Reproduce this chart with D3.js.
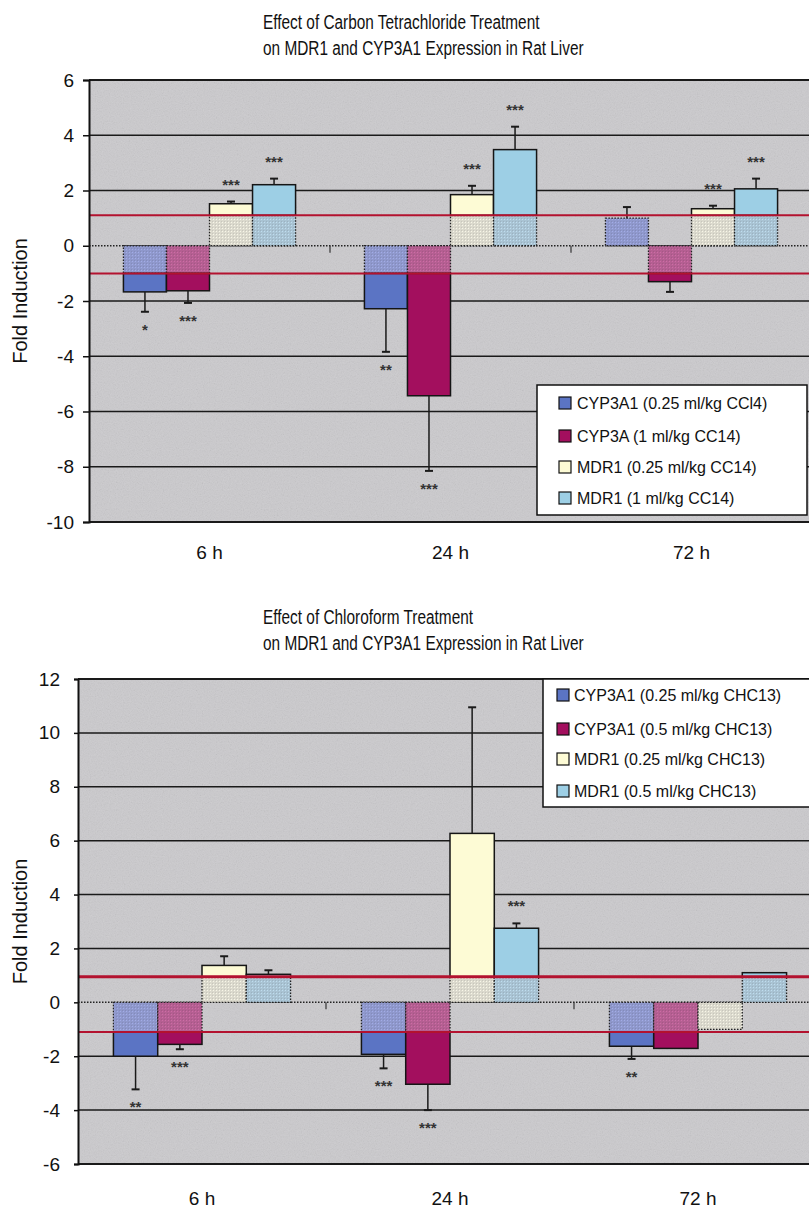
<!DOCTYPE html>
<html>
<head>
<meta charset="utf-8">
<script src="https://cdn.jsdelivr.net/npm/d3@7"></script>
<style>
  body { margin: 0; background: #fff; }
  text { font-family: "Liberation Sans", Arial, sans-serif; fill: #111; }
  .title { font-size: 20px; }
</style>
</head>
<body>
<div id="chart"></div>
<script>
// Categories
const timepoints = ["6 h", "24 h", "72 h"];

// Carbon tetrachloride panel
const ccl4Series = ["CYP3A1 (0.25 ml/kg CCl4)", "CYP3A (1 ml/kg CC14)", "MDR1 (0.25 ml/kg CC14)", "MDR1 (1 ml/kg CC14)"];
const ccl4Cyp025 = [-1.67, -2.28, 1.0];
const ccl4Cyp1   = [-1.63, -5.43, -1.30];
const ccl4Mdr025 = [1.52, 1.85, 1.34];
const ccl4Mdr1   = [2.21, 3.48, 2.06];
const ccl4Cyp025Err = [0.72, 1.56, 0.40];
const ccl4Cyp1Err   = [0.44, 2.72, 0.37];
const ccl4Mdr025Err = [0.08, 0.32, 0.11];
const ccl4Mdr1Err   = [0.22, 0.83, 0.37];
const ccl4Stars = [["*", "**", ""], ["***", "***", ""], ["***", "***", "***"], ["***", "***", "***"]];
const ccl4Ticks = [-10, -8, -6, -4, -2, 0, 2, 4, 6];

// Chloroform panel
const chcSeries = ["CYP3A1 (0.25 ml/kg CHC13)", "CYP3A1 (0.5 ml/kg CHC13)", "MDR1 (0.25 ml/kg CHC13)", "MDR1 (0.5 ml/kg CHC13)"];
const chcCyp025 = [-2.0, -1.93, -1.63];
const chcCyp05  = [-1.56, -3.04, -1.71];
const chcMdr025 = [1.37, 6.27, -1.0];
const chcMdr05  = [1.04, 2.75, 1.1];
const chcCyp025Err = [1.23, 0.52, 0.47];
const chcCyp05Err  = [0.18, 0.96, 0];
const chcMdr025Err = [0.34, 4.68, 0];
const chcMdr05Err  = [0.15, 0.18, 0];
const chcStars = [["**", "***", "**"], ["***", "***", ""], ["", "", ""], ["", "***", ""]];
const chcTicks = [-6, -4, -2, 0, 2, 4, 6, 8, 10, 12];

// series colours: solid part, and the faded part inside the no-change band
const solidColors = ["#5b74c4", "#a30f5e", "#fdfbd5", "#9dcfe5"];
const fadedColors = ["#8f98cc", "#b55f92", "#dbd9cd", "#a9c3d3"];

const svg = d3.select("#chart").append("svg")
  .attr("width", 809).attr("height", 1211);

const defs = svg.append("defs");
const grain = defs.append("filter").attr("id", "grain")
  .attr("x", 0).attr("y", 0).attr("width", "100%").attr("height", "100%");
grain.append("feTurbulence").attr("type", "fractalNoise")
  .attr("baseFrequency", 0.85).attr("numOctaves", 2).attr("seed", 4);
grain.append("feColorMatrix").attr("type", "saturate").attr("values", 0);
grain.append("feComponentTransfer").append("feFuncA").attr("type", "linear").attr("slope", 0.22);

// checker texture for faded segments
fadedColors.forEach((c, i) => {
  const p = defs.append("pattern").attr("id", "fade" + i)
    .attr("width", 3).attr("height", 3).attr("patternUnits", "userSpaceOnUse");
  p.append("rect").attr("width", 3).attr("height", 3).attr("fill", c);
  p.append("rect").attr("width", 1).attr("height", 1).attr("fill", d3.color(c).brighter(0.35));
  p.append("rect").attr("x", 2).attr("y", 2).attr("width", 1).attr("height", 1).attr("fill", d3.color(c).darker(0.25));
});

function drawPanel(cfg) {
  const { top, bottom, left, right } = cfg;
  const g = svg.append("g");

  // titles (condensed like the original's narrow face)
  cfg.title.forEach((t, i) => {
    g.append("text").attr("class", "title")
      .attr("transform", `translate(263,${cfg.titleY + i * 26}) scale(0.77,1)`)
      .text(t);
  });

  const y = d3.scaleLinear(cfg.domain, [bottom, top]);
  const x0 = d3.scaleBand(timepoints, [left, right]);
  const x1 = d3.scaleBand(d3.range(cfg.series.length), [0, x0.bandwidth()]).paddingOuter(0.8);

  // plot background
  g.append("rect").attr("x", left).attr("y", top)
    .attr("width", right - left).attr("height", bottom - top).attr("fill", "#cbcacd");
  g.append("rect").attr("x", left).attr("y", top)
    .attr("width", right - left).attr("height", bottom - top).attr("filter", "url(#grain)");

  // gridlines
  g.append("g").selectAll("line")
    .data(cfg.ticks.filter(d => d !== 0))
    .join("line")
    .attr("x1", left).attr("x2", right)
    .attr("y1", d => y(d)).attr("y2", d => y(d))
    .attr("stroke", "#1a1a1a")
    .attr("stroke-width", d => (d === cfg.domain[0] || d === cfg.domain[1]) ? 2 : 1.5);

  // zero line (dotted) and category separators
  g.append("line").attr("x1", left).attr("x2", right)
    .attr("y1", y(0)).attr("y2", y(0))
    .attr("stroke", "#222").attr("stroke-width", 1.5).attr("stroke-dasharray", "1.5,1.5");
  g.append("g").selectAll("line")
    .data(timepoints.slice(1))
    .join("line")
    .attr("x1", d => x0(d)).attr("x2", d => x0(d))
    .attr("y1", y(0)).attr("y2", y(0) + 7)
    .attr("stroke", "#333").attr("stroke-width", 1.2);

  // bars
  const bars = [];
  cfg.series.forEach((name, si) => {
    timepoints.forEach((t, ti) => {
      bars.push({ si, t, v: cfg.values[si][ti], e: cfg.errors[si][ti], star: cfg.stars[si][ti] });
    });
  });
  const bx = d => x0(d.t) + x1(d.si);
  const bw = x1.bandwidth();

  const barG = g.append("g");
  // faded part between 0 and the threshold line
  barG.selectAll("rect.faded")
    .data(bars)
    .join("rect")
    .attr("class", "faded")
    .attr("x", bx).attr("width", bw)
    .attr("y", d => d.v > 0 ? y(Math.min(d.v, cfg.upper)) : y(0))
    .attr("height", d => d.v > 0 ? y(0) - y(Math.min(d.v, cfg.upper)) : y(Math.max(d.v, cfg.lower)) - y(0))
    .attr("fill", d => `url(#fade${d.si})`)
    .attr("stroke", "#222").attr("stroke-width", 1.3).attr("stroke-dasharray", "1.5,1.5");
  // solid part beyond the threshold
  barG.selectAll("rect.solid")
    .data(bars.filter(d => d.v > cfg.upper || d.v < cfg.lower))
    .join("rect")
    .attr("class", "solid")
    .attr("x", bx).attr("width", bw)
    .attr("y", d => d.v > 0 ? y(d.v) : y(cfg.lower))
    .attr("height", d => d.v > 0 ? y(cfg.upper) - y(d.v) : y(d.v) - y(cfg.lower))
    .attr("fill", d => solidColors[d.si])
    .attr("stroke", "#151515").attr("stroke-width", 1.5);

  // error bars
  const errs = bars.filter(d => d.e > 0);
  const tip = d => d.v + Math.sign(d.v) * d.e;
  barG.selectAll("line.err")
    .data(errs)
    .join("line")
    .attr("class", "err")
    .attr("x1", d => bx(d) + bw / 2).attr("x2", d => bx(d) + bw / 2)
    .attr("y1", d => y(d.v)).attr("y2", d => y(tip(d)))
    .attr("stroke", "#1a1a1a").attr("stroke-width", 1.5);
  barG.selectAll("line.cap")
    .data(errs)
    .join("line")
    .attr("class", "cap")
    .attr("x1", d => bx(d) + bw / 2 - 4).attr("x2", d => bx(d) + bw / 2 + 4)
    .attr("y1", d => y(tip(d))).attr("y2", d => y(tip(d)))
    .attr("stroke", "#1a1a1a").attr("stroke-width", 2);

  // significance stars
  barG.selectAll("text.star")
    .data(bars.filter(d => d.star))
    .join("text")
    .attr("class", "star")
    .attr("x", d => bx(d) + bw / 2)
    .attr("y", d => (d.v > 0 ? y(tip(d)) - 20 : y(tip(d)) + 15) + 8)
    .attr("text-anchor", "middle")
    .style("font-size", "15px").style("font-weight", "bold").style("fill", "#333")
    .text(d => d.star);

  // threshold lines
  [[cfg.upper, cfg.upperWidth], [cfg.lower, 2]].forEach(([v, w]) => {
    g.append("line").attr("x1", left).attr("x2", right)
      .attr("y1", y(v)).attr("y2", y(v))
      .attr("stroke", "#b3122f").attr("stroke-width", w);
  });

  // left axis
  const axisY = g.append("g")
    .attr("transform", `translate(${left},0)`)
    .call(d3.axisLeft(y).tickValues(cfg.ticks).tickFormat(d => String(d))
      .tickSize(cfg.tickSize).tickPadding(cfg.tickPad));
  axisY.select(".domain").attr("stroke", "#111").attr("stroke-width", 2);
  axisY.selectAll(".tick line").attr("stroke", "#111").attr("stroke-width", 1.5);
  axisY.selectAll(".tick text").style("font-size", "19px").style("font-family", "Liberation Sans, Arial, sans-serif").attr("fill", "#111");

  // category labels
  const axisX = g.append("g")
    .attr("transform", `translate(0,${bottom})`)
    .call(d3.axisBottom(x0).tickSize(0).tickPadding(cfg.catPad));
  axisX.select(".domain").remove();
  axisX.selectAll(".tick text").style("font-size", "19px").style("font-family", "Liberation Sans, Arial, sans-serif").attr("fill", "#111");

  // y label
  g.append("text")
    .attr("transform", `translate(27,${(top + bottom) / 2}) rotate(-90)`)
    .attr("text-anchor", "middle").style("font-size", "20px")
    .text("Fold Induction");

  // legend
  const L = cfg.legend;
  const lg = g.append("g");
  lg.append("rect").attr("x", L.x).attr("y", L.y).attr("width", L.w).attr("height", L.h)
    .attr("fill", "#fff").attr("stroke", "#111").attr("stroke-width", 1.5);
  const items = lg.selectAll("g.item")
    .data(cfg.series)
    .join("g").attr("class", "item")
    .attr("transform", (d, i) => `translate(${L.sx},${L.rows[i]})`);
  items.append("rect").attr("x", 0).attr("y", -6).attr("width", 12).attr("height", 12)
    .attr("fill", (d, i) => solidColors[i]).attr("stroke", "#111").attr("stroke-width", 1.2);
  items.append("text").attr("x", L.tx).attr("y", 6)
    .style("font-size", "16px").text(d => d);
}

drawPanel({
  title: ["Effect of Carbon Tetrachloride Treatment", "on MDR1 and CYP3A1 Expression in Rat Liver"],
  titleY: 29,
  top: 80, bottom: 522, left: 89, right: 812,
  domain: [-10, 6], ticks: ccl4Ticks,
  tickSize: 6, tickPad: 9, catPad: 24,
  series: ccl4Series,
  values: [ccl4Cyp025, ccl4Cyp1, ccl4Mdr025, ccl4Mdr1],
  errors: [ccl4Cyp025Err, ccl4Cyp1Err, ccl4Mdr025Err, ccl4Mdr1Err],
  stars: ccl4Stars,
  upper: 1.1, lower: -1.0, upperWidth: 2,
  legend: { x: 537, y: 385, w: 270, h: 130, sx: 559, tx: 18, rows: [403, 436, 467, 498] }
});

drawPanel({
  title: ["Effect of Chloroform Treatment", "on MDR1 and CYP3A1 Expression in Rat Liver"],
  titleY: 624,
  top: 679, bottom: 1164, left: 78, right: 822,
  domain: [-6, 12], ticks: chcTicks,
  tickSize: 4, tickPad: 14, catPad: 28,
  series: chcSeries,
  values: [chcCyp025, chcCyp05, chcMdr025, chcMdr05],
  errors: [chcCyp025Err, chcCyp05Err, chcMdr025Err, chcMdr05Err],
  stars: chcStars,
  upper: 0.95, lower: -1.1, upperWidth: 3,
  legend: { x: 543, y: 679, w: 300, h: 128, sx: 557, tx: 17, rows: [695, 729, 759, 791] }
});
</script>
</body>
</html>
